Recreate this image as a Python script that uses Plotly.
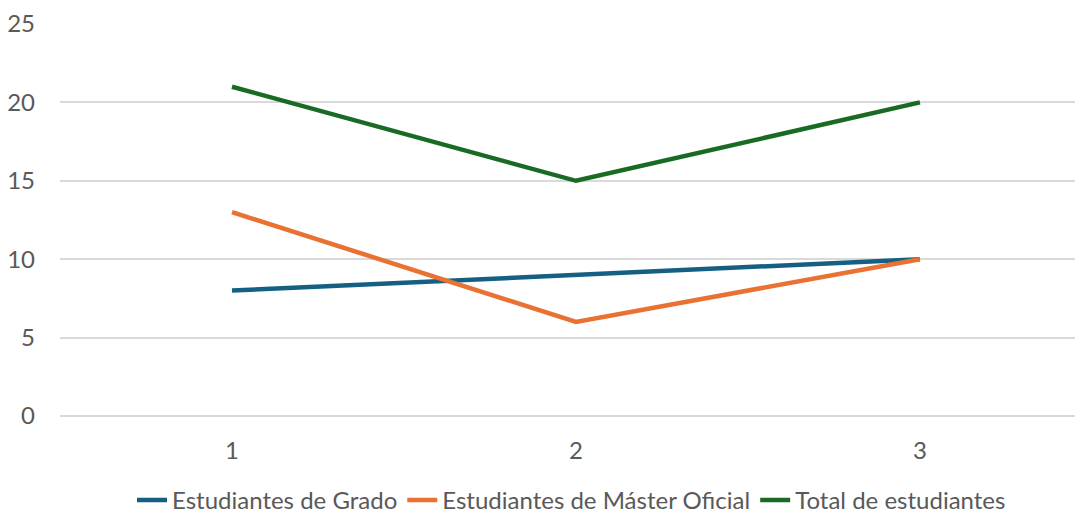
import plotly.graph_objects as go

categories = ["1", "2", "3"]
grado = [8, 9, 10]
master = [13, 6, 10]
total = [21, 15, 20]
series_names = ["Estudiantes de Grado", "Estudiantes de Máster Oficial", "Total de estudiantes"]
colors = ["#156082", "#E97132", "#196B24"]

fig = go.Figure()
for name, vals, col in zip(series_names, [grado, master, total], colors):
    fig.add_trace(go.Scatter(x=categories, y=vals, mode="lines", name=name,
                             line=dict(color=col, width=4.5)))

fig.update_layout(
    width=1075, height=510,
    margin=dict(l=52, r=0, t=16, b=102, autoexpand=False),
    plot_bgcolor="white", paper_bgcolor="white",
    font=dict(family="Lato, Noto Sans, sans-serif", size=24, color="#595959"),
    xaxis=dict(type="category", range=[-0.5, 2.474], showgrid=False, showline=False,
               automargin=False, ticks="", ticklabelstandoff=18,
               tickfont=dict(size=24, color="#595959")),
    yaxis=dict(range=[0, 25], dtick=5, showgrid=True, gridcolor="#D9D9D9", gridwidth=1.5,
               zeroline=True, zerolinecolor="#D9D9D9", zerolinewidth=1.5,
               automargin=False, showline=False, ticks="", ticklabelstandoff=24,
               tickfont=dict(size=24, color="#595959")),
    legend=dict(orientation="h", x=0.5, xanchor="center", y=-0.215, yanchor="middle",
                font=dict(size=24, color="#595959"), tracegroupgap=0),
    showlegend=True,
)
fig.write_html("out.html")
